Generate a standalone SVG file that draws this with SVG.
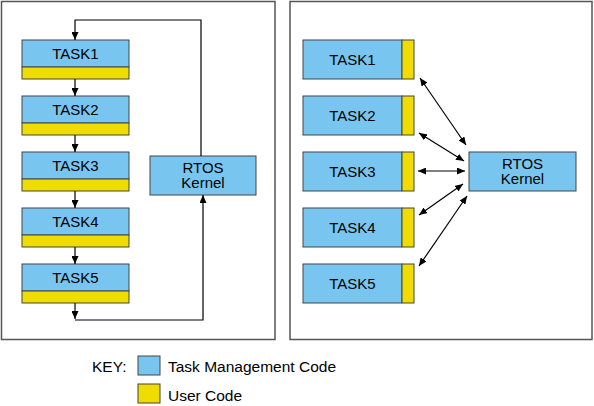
<svg xmlns="http://www.w3.org/2000/svg" width="594" height="406" viewBox="0 0 594 406">
<style>
text{font-family:"Liberation Sans",Arial,sans-serif;font-size:15px;fill:#000;}
.c{text-anchor:middle;}
.panel{fill:#fff;stroke:#555;stroke-width:1.5;}
.tm{fill:#78C6F0;stroke:#444;stroke-width:1;}
.uc{fill:#F0DC00;stroke:#444;stroke-width:1;}
.ln{fill:none;stroke:#000;stroke-width:1.2;}
</style>
<defs>
<marker id="ah" markerUnits="userSpaceOnUse" markerWidth="9" markerHeight="7" refX="8" refY="3.5" orient="auto-start-reverse">
<path d="M0,0 L8,3.5 L0,7 z" fill="#000"/>
</marker>
</defs>
<g id="panel-left"><rect class="panel" x="1.5" y="1.5" width="273.5" height="338"/></g>
<g id="panel-right"><rect class="panel" x="290" y="1.5" width="302" height="338"/></g>

<g id="l-task1"><rect class="tm" x="22" y="40" width="107" height="27"/><rect class="uc" x="22" y="67" width="107" height="12"/><text class="c" x="75.5" y="59">TASK1</text></g>
<g id="l-task2"><rect class="tm" x="22" y="96" width="107" height="27"/><rect class="uc" x="22" y="123" width="107" height="12"/><text class="c" x="75.5" y="115">TASK2</text></g>
<g id="l-task3"><rect class="tm" x="22" y="152" width="107" height="27"/><rect class="uc" x="22" y="179" width="107" height="12"/><text class="c" x="75.5" y="171">TASK3</text></g>
<g id="l-task4"><rect class="tm" x="22" y="208" width="107" height="27"/><rect class="uc" x="22" y="235" width="107" height="12"/><text class="c" x="75.5" y="227">TASK4</text></g>
<g id="l-task5"><rect class="tm" x="22" y="264" width="107" height="27"/><rect class="uc" x="22" y="291" width="107" height="12"/><text class="c" x="75.5" y="283">TASK5</text></g>
<g id="l-rtos"><rect class="tm" x="150" y="156" width="106" height="39"/><text class="c" x="203" y="172.5">RTOS</text><text class="c" x="203" y="188">Kernel</text></g>

<g id="r-task1"><rect class="tm" x="303" y="40" width="99" height="39"/><rect class="uc" x="402" y="40" width="12" height="39"/><text class="c" x="352.5" y="64.5">TASK1</text></g>
<g id="r-task2"><rect class="tm" x="303" y="96" width="99" height="39"/><rect class="uc" x="402" y="96" width="12" height="39"/><text class="c" x="352.5" y="120.5">TASK2</text></g>
<g id="r-task3"><rect class="tm" x="303" y="152" width="99" height="39"/><rect class="uc" x="402" y="152" width="12" height="39"/><text class="c" x="352.5" y="176.5">TASK3</text></g>
<g id="r-task4"><rect class="tm" x="303" y="208" width="99" height="39"/><rect class="uc" x="402" y="208" width="12" height="39"/><text class="c" x="352.5" y="232.5">TASK4</text></g>
<g id="r-task5"><rect class="tm" x="303" y="264" width="99" height="39"/><rect class="uc" x="402" y="264" width="12" height="39"/><text class="c" x="352.5" y="288.5">TASK5</text></g>
<g id="r-rtos"><rect class="tm" x="469" y="152" width="107" height="39"/><text class="c" x="522.5" y="168.5">RTOS</text><text class="c" x="522.5" y="184">Kernel</text></g>

<g id="connectors">
<path class="ln" d="M201,156 V20 H75 V40" marker-end="url(#ah)"/>
<path class="ln" d="M75,79 V96" marker-end="url(#ah)"/>
<path class="ln" d="M75,135 V152" marker-end="url(#ah)"/>
<path class="ln" d="M75,191 V208" marker-end="url(#ah)"/>
<path class="ln" d="M75,247 V264" marker-end="url(#ah)"/>
<path class="ln" d="M75,303 V319" marker-end="url(#ah)"/>
<path class="ln" d="M75,320 H203 V195" marker-end="url(#ah)"/>
<path class="ln" d="M420,78 L466,145" marker-start="url(#ah)" marker-end="url(#ah)"/>
<path class="ln" d="M419,133 L464,161" marker-start="url(#ah)" marker-end="url(#ah)"/>
<path class="ln" d="M418,171 L465,171" marker-start="url(#ah)" marker-end="url(#ah)"/>
<path class="ln" d="M419,215 L463,184" marker-start="url(#ah)" marker-end="url(#ah)"/>
<path class="ln" d="M419,266 L467,196" marker-start="url(#ah)" marker-end="url(#ah)"/>
</g>

<g id="key">
<text x="92" y="372" style="font-size:15.5px">KEY:</text>
<rect class="tm" x="138" y="356" width="22" height="19"/>
<text x="168" y="372" style="font-size:15.5px">Task Management Code</text>
<rect class="uc" x="138" y="384" width="22" height="19"/>
<text x="168" y="401" style="font-size:15.5px">User Code</text>
</g>
</svg>
